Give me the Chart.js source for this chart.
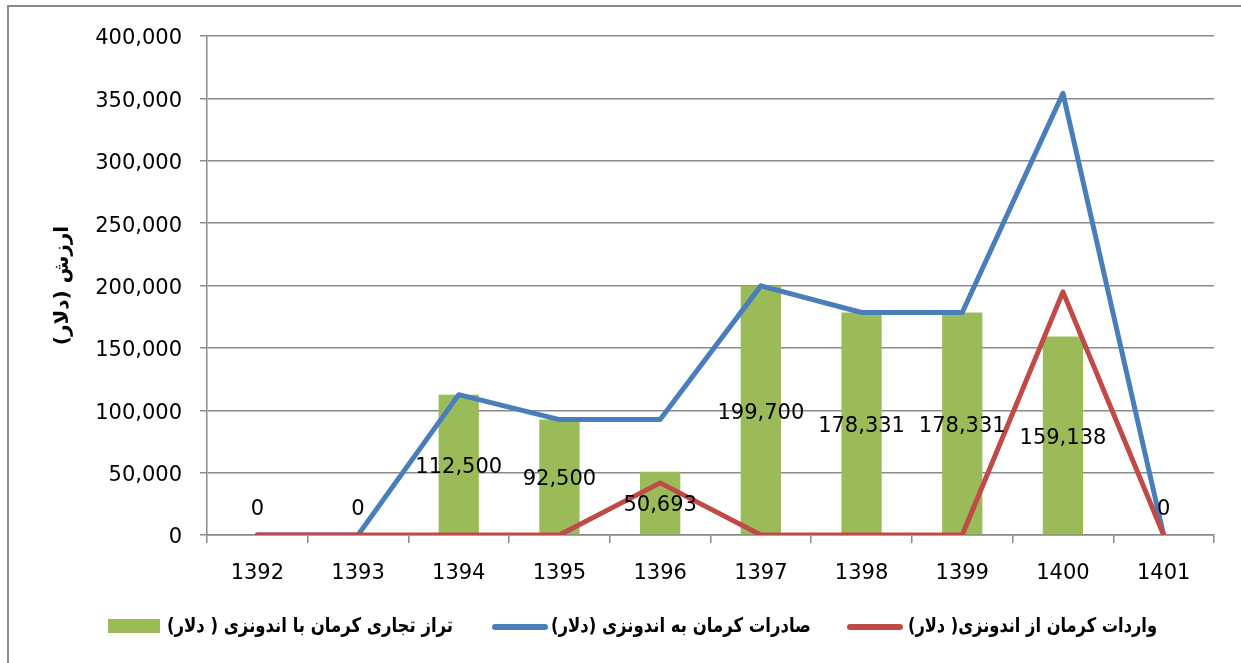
<!DOCTYPE html>
<html>
<head>
<meta charset="utf-8">
<title>تراز تجاری کرمان با اندونزی</title>
<script src="https://cdn.jsdelivr.net/npm/chart.js@4.4.1/dist/chart.umd.min.js"></script>
<style>
  html, body { margin: 0; padding: 0; background: #fff; }
  canvas { display: block; }
</style>
</head>
<body>
<canvas id="tradeChart" width="1241" height="663"></canvas>
<script>
// years (solar hijri)
const years = ['1392', '1393', '1394', '1395', '1396', '1397', '1398', '1399', '1400', '1401'];
// trade balance, exports and imports in dollars
const balance = [0, 0, 112500, 92500, 50693, 199700, 178331, 178331, 159138, 0];
const exportsToIndonesia = [0, 0, 112500, 92500, 92500, 199700, 178331, 178331, 354000, 0];
const importsFromIndonesia = [0, 0, 0, 0, 41807, 0, 0, 0, 194862, 0];

const balanceLabel = 'تراز تجاری کرمان با اندونزی ( دلار)';
const exportsLabel = 'صادرات کرمان به اندونزی (دلار)';
const importsLabel = 'واردات کرمان از اندونزی( دلار)';
const yTitle = 'ارزش (دلار)\u200F';

const GREEN = '#9BBB59';
const BLUE = '#4A7EBB';
const RED = '#BE4B48';
const GRID = '#8a8a8a';
const numFont = { family: 'DejaVu Sans', size: 21 };

function fmt(v) {
    return Number(v).toLocaleString('en-US');
}

// frame around the whole chart (only top and left edges fall inside the canvas)
const framePlugin = {
    id: 'frame',
    beforeDraw(chart) {
        const ctx = chart.ctx;
        ctx.save();
        ctx.strokeStyle = GRID;
        ctx.lineWidth = 2;
        ctx.beginPath();
        ctx.moveTo(8, chart.height);
        ctx.lineTo(8, 6);
        ctx.lineTo(chart.width, 6);
        ctx.stroke();
        ctx.restore();
    }
};

// value labels in the middle of each bar
const barLabels = {
    id: 'barLabels',
    afterDatasetsDraw(chart) {
        const ctx = chart.ctx;
        const meta = chart.getDatasetMeta(0);
        ctx.save();
        ctx.font = numFont.size + 'px ' + numFont.family;
        ctx.fillStyle = '#000';
        ctx.textAlign = 'center';
        ctx.textBaseline = 'middle';
        meta.data.forEach((bar, i) => {
            const v = balance[i];
            const y = v > 0 ? (bar.y + bar.base) / 2 + 3 : bar.base - 25;
            ctx.fillText(fmt(v), bar.x, y);
        });
        ctx.restore();
    }
};

// legend along the bottom
const bottomLegend = {
    id: 'bottomLegend',
    afterDraw(chart) {
        const ctx = chart.ctx;
        const y = 627;
        ctx.save();
        ctx.fillStyle = GREEN;
        ctx.fillRect(108, 619, 52, 14);

        ctx.lineCap = 'round';
        ctx.lineWidth = 6;
        ctx.strokeStyle = BLUE;
        ctx.beginPath(); ctx.moveTo(495, y); ctx.lineTo(545, y); ctx.stroke();
        ctx.strokeStyle = RED;
        ctx.beginPath(); ctx.moveTo(850, y); ctx.lineTo(900, y); ctx.stroke();

        ctx.fillStyle = '#000';
        ctx.font = 'bold 20px "DejaVu Sans"';
        ctx.direction = 'rtl';
        ctx.textAlign = 'right';
        ctx.textBaseline = 'middle';
        ctx.fillText(balanceLabel, 453, y, 286);
        ctx.fillText(exportsLabel, 811, y, 260);
        ctx.fillText(importsLabel, 1157, y, 249);
        ctx.restore();
    }
};

const ctx = document.getElementById('tradeChart').getContext('2d');
const tradeChart = new Chart(ctx, {
    data: {
        labels: years,
        datasets: [
            {
                type: 'bar',
                label: balanceLabel,
                data: balance,
                backgroundColor: GREEN,
                barPercentage: 0.4,
                categoryPercentage: 1,
                order: 2
            },
            {
                type: 'line',
                label: exportsLabel,
                data: exportsToIndonesia,
                borderColor: BLUE,
                backgroundColor: BLUE,
                borderWidth: 5,
                pointRadius: 0,
                borderJoinStyle: 'round',
                borderCapStyle: 'round',
                tension: 0,
                order: 1
            },
            {
                type: 'line',
                label: importsLabel,
                data: importsFromIndonesia,
                borderColor: RED,
                backgroundColor: RED,
                borderWidth: 5,
                pointRadius: 0,
                borderJoinStyle: 'round',
                borderCapStyle: 'round',
                tension: 0,
                order: 0
            }
        ]
    },
    options: {
        responsive: false,
        animation: false,
        layout: { padding: { left: 10, top: 36, right: 27, bottom: 0 } },
        plugins: {
            legend: { display: false },
            tooltip: { enabled: false }
        },
        scales: {
            x: {
                offset: true,
                afterFit: (scale) => { scale.height = 128; },
                grid: {
                    offset: true,
                    drawOnChartArea: false,
                    tickLength: 8,
                    color: GRID,
                    lineWidth: 1.5
                },
                border: { color: GRID, width: 1.5 },
                ticks: { font: numFont, color: '#000', padding: 18 }
            },
            y: {
                min: 0,
                max: 400000,
                afterFit: (scale) => { scale.width = 197; },
                grid: {
                    color: GRID,
                    lineWidth: 1.5,
                    tickLength: 7
                },
                border: { color: GRID, width: 1.5 },
                ticks: {
                    stepSize: 50000,
                    font: numFont,
                    color: '#000',
                    padding: 18,
                    labelOffset: 3,
                    callback: (v) => fmt(v)
                },
                title: {
                    display: true,
                    text: yTitle,
                    color: '#000',
                    font: { family: 'DejaVu Sans', size: 20, weight: 'bold' },
                    padding: { top: 41, bottom: 0 }
                }
            }
        }
    },
    plugins: [framePlugin, barLabels, bottomLegend]
});
</script>
</body>
</html>
